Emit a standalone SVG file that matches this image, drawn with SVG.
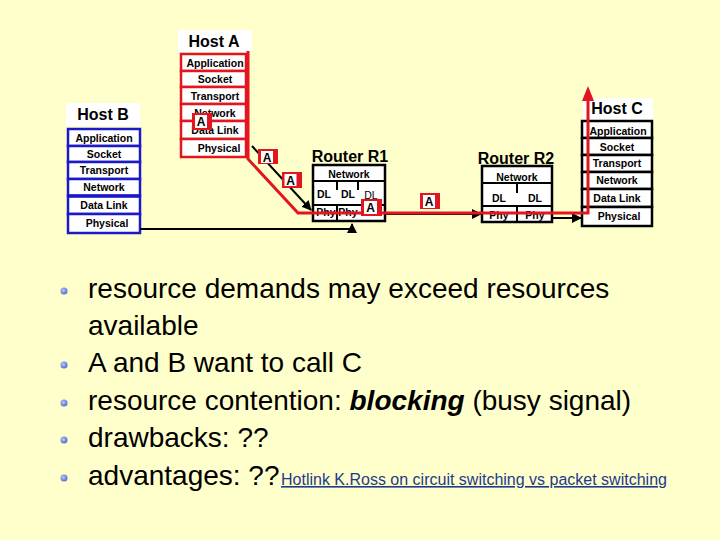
<svg xmlns="http://www.w3.org/2000/svg" width="720" height="540" viewBox="0 0 720 540">
<defs>
<style>
.lbl{font-family:"Liberation Sans",Arial,sans-serif;font-weight:bold;font-size:16px;fill:#000;text-anchor:middle}
.lay{font-family:"Liberation Sans",Arial,sans-serif;font-weight:bold;font-size:10.5px;fill:#000;text-anchor:middle}
.thin{font-family:"Liberation Sans",Arial,sans-serif;font-size:10.5px;fill:#000;text-anchor:middle}
.rowA{fill:#fff;stroke:#E2161E;stroke-width:2.5}
.rowB{fill:#fff;stroke:#1A1AC8;stroke-width:2.5}
.rowC{fill:#fff;stroke:#000;stroke-width:2.5}
.wbox{fill:#fff;stroke:none}
.div{stroke:#000;stroke-width:2}
.blk{stroke:#000;stroke-width:2;fill:none}
.red{stroke:#E2161E;stroke-width:3;fill:none}
.pr{fill:#E2161E}
.pw{fill:#fff}
.pa{font-family:"Liberation Sans",Arial,sans-serif;font-weight:bold;font-size:12px;fill:#000;text-anchor:middle}
.bul{font-family:"Liberation Sans",Arial,sans-serif;font-size:28px;fill:#000}
.link{font-family:"Liberation Sans",Arial,sans-serif;font-size:16px;fill:#1E3A8C;text-decoration:underline}
</style>
<marker id="ah" viewBox="0 0 10 10" refX="9" refY="5" markerWidth="5" markerHeight="5" orient="auto" markerUnits="strokeWidth">
<path d="M0,0 L10,5 L0,10 z" fill="#000"/>
</marker>
<radialGradient id="bg" cx="0.4" cy="0.4" r="0.6">
<stop offset="0" stop-color="#B8CCF4"/>
<stop offset="1" stop-color="#4F6FD0"/>
</radialGradient>
</defs>
<rect width="720" height="540" fill="#FFFFCC"/>

<g id="hostA">
<rect class="wbox" x="178" y="30" width="74" height="22"/>
<text class="lbl" x="214" y="47">Host A</text>
<rect class="rowA" x="181" y="54" width="65" height="17"/>
<rect class="rowA" x="181" y="71" width="65" height="16"/>
<rect class="rowA" x="181" y="87" width="65" height="17"/>
<rect class="rowA" x="181" y="104" width="65" height="17"/>
<rect class="rowA" x="181" y="121" width="65" height="18"/>
<rect class="rowA" x="181" y="139" width="65" height="18"/>
<text class="lay" x="215" y="67">Application</text>
<text class="lay" x="215" y="83">Socket</text>
<text class="lay" x="215" y="100">Transport</text>
<text class="lay" x="215" y="117">Network</text>
<text class="lay" x="215" y="134">Data Link</text>
<text class="lay" x="219" y="152">Physical</text>
</g>

<g id="hostB">
<rect class="wbox" x="66" y="103" width="74" height="23"/>
<text class="lbl" x="103" y="120">Host B</text>
<rect class="rowB" x="68" y="129" width="72" height="17"/>
<rect class="rowB" x="68" y="146" width="72" height="16"/>
<rect class="rowB" x="68" y="162" width="72" height="17"/>
<rect class="rowB" x="68" y="179" width="72" height="17"/>
<rect class="rowB" x="68" y="196" width="72" height="18"/>
<rect class="rowB" x="68" y="214" width="72" height="19"/>
<line x1="68" y1="196" x2="140" y2="196" stroke="#1A1AC8" stroke-width="3.5"/>
<text class="lay" x="104" y="142">Application</text>
<text class="lay" x="104" y="158">Socket</text>
<text class="lay" x="104" y="174">Transport</text>
<text class="lay" x="104" y="191">Network</text>
<text class="lay" x="104" y="209">Data Link</text>
<text class="lay" x="107" y="227">Physical</text>
</g>

<g id="hostC">
<rect class="wbox" x="583" y="98" width="70" height="22"/>
<text class="lbl" x="617" y="114">Host C</text>
<rect class="rowC" x="582" y="121" width="70" height="17"/>
<rect class="rowC" x="582" y="138" width="70" height="17"/>
<rect class="rowC" x="582" y="155" width="70" height="17"/>
<rect class="rowC" x="582" y="172" width="70" height="17"/>
<rect class="rowC" x="582" y="189" width="70" height="18"/>
<rect class="rowC" x="582" y="207" width="70" height="19"/>
<text class="lay" x="618" y="135">Application</text>
<text class="lay" x="617" y="151">Socket</text>
<text class="lay" x="617" y="167">Transport</text>
<text class="lay" x="617" y="184">Network</text>
<text class="lay" x="617" y="202">Data Link</text>
<text class="lay" x="619" y="220">Physical</text>
</g>

<g id="routerR1">
<text class="lbl" x="350" y="162">Router R1</text>
<rect class="rowC" x="313" y="165" width="72" height="56"/>
<line class="div" x1="313" y1="181" x2="385" y2="181"/>
<line class="div" x1="313" y1="205" x2="385" y2="205"/>
<line class="div" x1="337" y1="182" x2="337" y2="190"/>
<line class="div" x1="358" y1="182" x2="358" y2="190"/>
<line class="div" x1="337" y1="206" x2="337" y2="221"/>
<text class="lay" x="349" y="178">Network</text>
<text class="lay" x="324" y="198">DL</text>
<text class="lay" x="348" y="198">DL</text>
<text class="thin" x="371" y="199">DL</text>
<text class="lay" x="326" y="216">Phy</text>
<text class="lay" x="348" y="216">Phy</text>
</g>

<g id="routerR2">
<text class="lbl" x="516" y="164">Router R2</text>
<rect class="rowC" x="482" y="166" width="70" height="56"/>
<line class="div" x1="482" y1="183" x2="552" y2="183"/>
<line class="div" x1="482" y1="206" x2="552" y2="206"/>
<line class="div" x1="517" y1="184" x2="517" y2="193"/>
<line class="div" x1="517" y1="207" x2="517" y2="222"/>
<text class="lay" x="517" y="181">Network</text>
<text class="lay" x="499" y="202">DL</text>
<text class="lay" x="535" y="202">DL</text>
<text class="lay" x="499" y="219">Phy</text>
<text class="lay" x="535" y="219">Phy</text>
</g>

<g id="connectors">
<line class="blk" x1="252" y1="146" x2="311" y2="210" marker-end="url(#ah)"/>
<polyline class="blk" points="140,229 352,229 352,224" marker-end="url(#ah)"/>
<line class="blk" x1="386" y1="214" x2="481" y2="214" marker-end="url(#ah)"/>
<line class="blk" x1="553" y1="218" x2="581" y2="218" marker-end="url(#ah)"/>
<polyline class="red" points="248,51 248,159 298,213 588,213 588,100"/>
<polygon points="588,86 582,101 594,101" fill="#E2161E"/>
</g>

<g id="packet1">
<rect class="pr" x="192" y="113" width="20" height="17"/>
<rect class="pw" x="195" y="115" width="12" height="13"/>
<text class="pa" x="201" y="126">A</text>
</g>
<g id="packet2">
<rect class="pr" x="258" y="149" width="20" height="15"/>
<rect class="pw" x="261" y="151" width="12" height="12"/>
<text class="pa" x="267" y="161.5">A</text>
</g>
<g id="packet3">
<rect class="pr" x="282" y="172" width="20" height="16"/>
<rect class="pw" x="284.5" y="174" width="12" height="12"/>
<text class="pa" x="290.5" y="184.5">A</text>
</g>
<g id="packet4">
<rect class="pr" x="361" y="199" width="21" height="17"/>
<rect class="pw" x="364" y="201" width="13" height="13"/>
<text class="pa" x="370.5" y="212">A</text>
</g>
<g id="packet5">
<rect class="pr" x="420" y="193" width="20" height="16"/>
<rect class="pw" x="423" y="195" width="12" height="13"/>
<text class="pa" x="429" y="206">A</text>
</g>

<g id="bullets">
<circle cx="64" cy="291" r="3.5" fill="url(#bg)"/>
<circle cx="64" cy="365" r="3.5" fill="url(#bg)"/>
<circle cx="64" cy="403" r="3.5" fill="url(#bg)"/>
<circle cx="64" cy="440" r="3.5" fill="url(#bg)"/>
<circle cx="64" cy="478" r="3.5" fill="url(#bg)"/>
<text class="bul" x="88" y="298">resource demands may exceed resources</text>
<text class="bul" x="88" y="335">available</text>
<text class="bul" x="88" y="372">A and B want to call C</text>
<text class="bul" x="88" y="410">resource contention: <tspan font-weight="bold" font-style="italic">blocking</tspan> (busy signal)</text>
<text class="bul" x="88" y="447">drawbacks: ??</text>
<text class="bul" x="88" y="485">advantages: ??</text>
<text class="link" x="281" y="485">Hotlink K.Ross on circuit switching vs packet switching</text>
</g>
</svg>
